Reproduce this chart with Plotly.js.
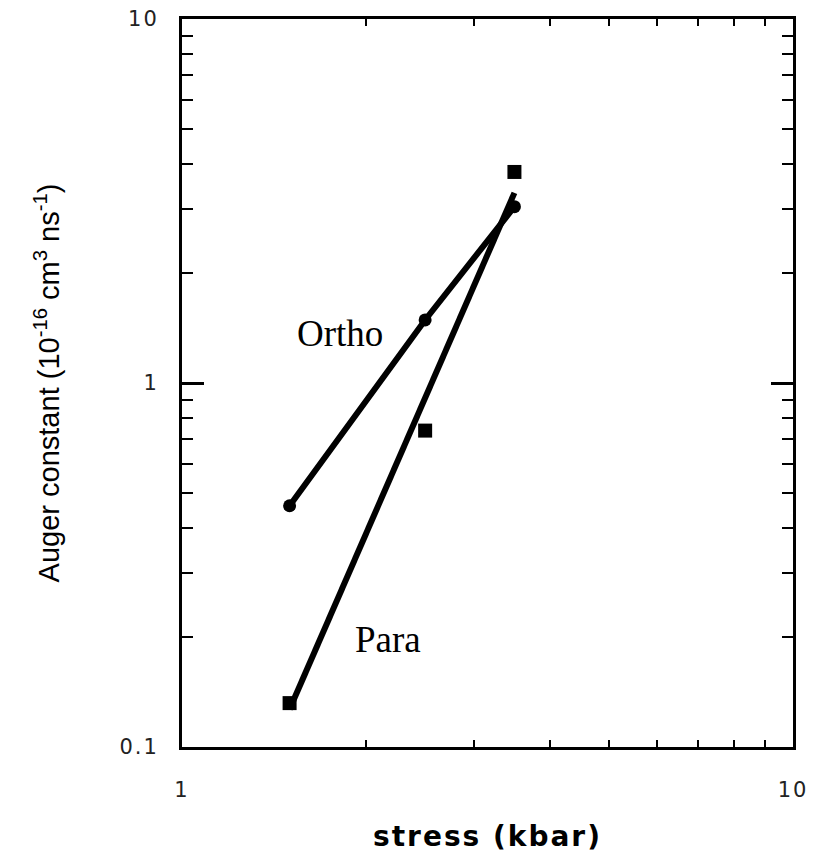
<!DOCTYPE html>
<html>
<head>
<meta charset="utf-8">
<script src="https://cdn.plot.ly/plotly-3.0.1.min.js"></script>
<style>
  html, body { margin: 0; padding: 0; background: #fff; }
  #chart { width: 814px; height: 853px; }
  .xtick text, .ytick text { letter-spacing: 2px; }
  .g-xtitle text { letter-spacing: 2px; }
</style>
</head>
<body>
<div id="chart"></div>
<script>
// Data
var stress = [1.5, 2.5, 3.5];                 // kbar
var orthoAuger = [0.46, 1.49, 3.05];          // 10^-16 cm^3 ns^-1
var paraAuger = [0.132, 0.74, 3.8];           // 10^-16 cm^3 ns^-1
var paraFitStress = [1.5, 3.5];
var paraFitAuger = [0.127, 3.33];
var xTickVals = [1, 10];
var xTickText = ['1', '10'];
var yTickVals = [0.1, 1, 10];
var yTickText = ['0.1', '1', '10'];
var seriesNames = ['Ortho', 'Para'];

var traces = [
  {
    x: stress, y: orthoAuger, name: seriesNames[0],
    mode: 'lines+markers', type: 'scatter',
    line: {color: '#000', width: 6},
    marker: {symbol: 'circle', size: 13, color: '#000'},
    cliponaxis: false
  },
  {
    x: paraFitStress, y: paraFitAuger, name: seriesNames[1] + ' fit',
    mode: 'lines', type: 'scatter',
    line: {color: '#000', width: 6},
    cliponaxis: false
  },
  {
    x: stress, y: paraAuger, name: seriesNames[1],
    mode: 'markers', type: 'scatter',
    marker: {symbol: 'square', size: 14, color: '#000'},
    cliponaxis: false
  }
];

var layout = {
  width: 814, height: 853,
  margin: {l: 182, r: 21, t: 19, b: 106},
  paper_bgcolor: '#fff', plot_bgcolor: '#fff',
  showlegend: false,
  font: {family: 'Liberation Sans, Arial, sans-serif', color: '#000'},
  xaxis: {
    type: 'log', range: [0, 1],
    tickvals: xTickVals, ticktext: xTickText,
    ticks: 'inside', ticklen: 22, tickwidth: 3, tickcolor: '#000',
    showline: true, linewidth: 3, linecolor: '#000', mirror: 'ticks',
    showgrid: false, zeroline: false,
    tickfont: {family: 'DejaVu Sans, sans-serif', size: 21, color: '#222'},
    ticklabelstandoff: 22,
    minor: {ticks: 'inside', ticklen: 7, tickwidth: 2, tickcolor: '#000', showgrid: false, dtick: 'D1'},
    title: {text: 'stress (kbar)', font: {family: 'DejaVu Sans, sans-serif', size: 28, weight: 'bold', color: '#000'}, standoff: 28},
    automargin: false
  },
  yaxis: {
    type: 'log', range: [-1, 1],
    tickvals: yTickVals, ticktext: yTickText,
    ticks: 'inside', ticklen: 22, tickwidth: 3, tickcolor: '#000',
    showline: true, linewidth: 3, linecolor: '#000', mirror: 'ticks',
    showgrid: false, zeroline: false,
    tickfont: {family: 'DejaVu Sans, sans-serif', size: 21, color: '#222'},
    ticklabelstandoff: 16,
    minor: {ticks: 'inside', ticklen: 11, tickwidth: 2, tickcolor: '#000', showgrid: false, dtick: 'D1'},
    title: {text: 'Auger constant (10<sup>-16</sup> cm<sup>3</sup> ns<sup>-1</sup>)', font: {family: 'Liberation Sans, Arial, sans-serif', size: 29, color: '#000'}, standoff: 52},
    automargin: false
  },
  annotations: [
    {text: 'Ortho', xref: 'x', yref: 'y', x: 0.2586, y: 0.135, showarrow: false,
     xanchor: 'center', yanchor: 'middle',
     font: {family: 'Liberation Serif, Times New Roman, serif', size: 37, color: '#000'}},
    {text: 'Para', xref: 'x', yref: 'y', x: 0.337, y: -0.705, showarrow: false,
     xanchor: 'center', yanchor: 'middle',
     font: {family: 'Liberation Serif, Times New Roman, serif', size: 37, color: '#000'}}
  ]
};

Plotly.newPlot('chart', traces, layout, {displayModeBar: false, staticPlot: true});
</script>
</body>
</html>
